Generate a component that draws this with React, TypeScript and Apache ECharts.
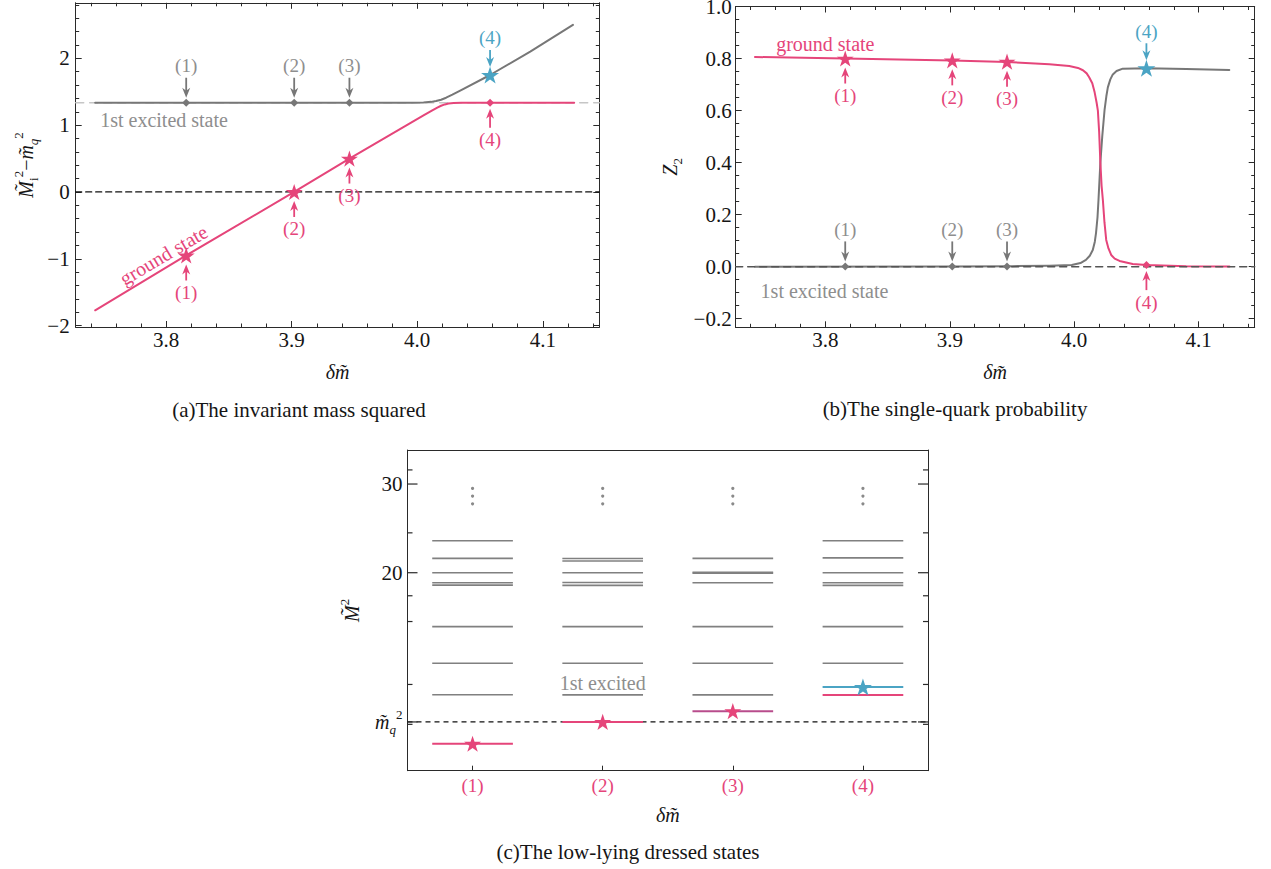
import { useEffect, useRef } from 'react';
import * as echarts from 'echarts';

const FONT = '"Liberation Serif", "Times New Roman", Times, serif';
const PINK = '#e5457a';
const GRAY = '#777777';
const CYAN = '#4ba4c4';
const LABEL_GRAY = '#8e8e8e';
const INK = '#151515';
const FRAME = '#2a2a2a';
const TICK_FONT = 21;

const X_MIN = 3.728;
const X_MAX = 4.145;

// ---- shared
const pointLabels = ['(1)', '(2)', '(3)', '(4)'];
const deltaM = [3.816, 3.902, 3.946, 4.058];

// ---- panel (a): invariant mass squared (M_i^2 - m_q^2)
const groundA = [
  [3.7435, -1.77], [3.816, -0.95], [3.902, 0], [3.946, 0.5], [3.99, 0.98], [4.005, 1.145],
  [4.012, 1.22], [4.016, 1.262], [4.019, 1.29], [4.022, 1.31], [4.025, 1.322], [4.029, 1.33],
  [4.035, 1.334], [4.058, 1.335], [4.125, 1.335],
];
const excitedA = [
  [3.7435, 1.335], [3.95, 1.335], [3.995, 1.336], [4.005, 1.34], [4.011, 1.348], [4.015, 1.36],
  [4.019, 1.38], [4.023, 1.41], [4.028, 1.455], [4.035, 1.525], [4.058, 1.75], [4.09, 2.1], [4.124, 2.5],
];
const EXCITED_LEVEL_A = 1.335;
const groundStarsA = [-0.95, 0, 0.5];
const excitedDotsA = [1.335, 1.335, 1.335];
const groundDotA4 = 1.335;
const excitedStarA4 = 1.75;

// ---- panel (b): single-quark probability Z2
const groundB = [
  [3.7435, 0.806], [3.816, 0.8], [3.902, 0.792], [3.946, 0.787], [3.98, 0.778], [3.996, 0.771],
  [4.003, 0.764], [4.007, 0.755], [4.01, 0.743], [4.012, 0.728], [4.0145, 0.705], [4.0164, 0.67],
  [4.018, 0.63], [4.019, 0.6], [4.02, 0.52], [4.021, 0.4], [4.022, 0.31], [4.023, 0.257], [4.0243, 0.17],
  [4.0257, 0.103], [4.0275, 0.07], [4.0297, 0.045], [4.0325, 0.031], [4.0364, 0.022], [4.047, 0.01],
  [4.058, 0.0066], [4.09, 0.002], [4.1247, 0.001],
];
const excitedB = [
  [3.7435, 0.0], [3.9, 0.0005], [3.95, 0.002], [3.98, 0.004], [3.998, 0.0066], [4.005, 0.014],
  [4.0094, 0.026], [4.0125, 0.042], [4.0149, 0.064], [4.0165, 0.095], [4.0175, 0.129], [4.0187, 0.19],
  [4.0195, 0.257], [4.021, 0.4], [4.0225, 0.5], [4.0244, 0.604], [4.0258, 0.655], [4.027, 0.689],
  [4.029, 0.72], [4.031, 0.739], [4.034, 0.752], [4.039, 0.761], [4.058, 0.7626], [4.09, 0.76], [4.1246, 0.756],
];
const groundStarsB = [0.8, 0.793, 0.788];
const excitedDotsB = [0.001, 0.001, 0.001];
const groundDotB4 = 0.006;
const excitedStarB4 = 0.7626;

// ---- panel (c): low-lying dressed states (M^2)
const categoriesC = ['(1)', '(2)', '(3)', '(4)'];
const MQ2 = 10.11;
const levelsC = [
  [23.14, 21.36, 20.0, 19.1, 18.9, 15.63, 13.22, 11.45],
  [21.35, 21.1, 20.0, 19.13, 18.88, 15.63, 13.22, 11.44],
  [21.36, 20.03, 19.95, 19.1, 15.63, 13.22, 11.44],
  [23.14, 21.4, 20.0, 19.1, 18.88, 15.63, 13.22],
];
const groundC = [9.15, 10.11, 10.62, 11.44];
const cyanLevelC = 11.86;
const dotsC = [29.4, 28.4, 27.4];
const majorTicksC = [30, 20, MQ2];
const majorTickLabelsC = ['30', '20', '{it|m\u0303}{sub|q}{sup|2}'];
const minorTicksC = [32, 24, 18, 16, 12, 10];

const STAR =
  'path://M50 0 L61.23 34.55 L97.55 34.55 L68.16 55.9 L79.39 90.45 L50 69.1 L20.61 90.45 L31.84 55.9 L2.45 34.55 L38.77 34.55 Z';

const richMath = {
  it: { fontStyle: 'italic', fontSize: 20, fontFamily: FONT, color: INK, lineHeight: 28 },
  up: { fontSize: 20, fontFamily: FONT, color: INK, lineHeight: 28 },
  sub: { fontStyle: 'italic', fontSize: 13, fontFamily: FONT, color: INK, verticalAlign: 'bottom' },
  subn: { fontSize: 13, fontFamily: FONT, color: INK, verticalAlign: 'bottom' },
  sup: { fontSize: 13, fontFamily: FONT, color: INK, verticalAlign: 'top' },
};

function fmtSigned(v: number, digits: number) {
  const s = Math.abs(v).toFixed(digits);
  return v < -1e-9 ? '\u2212' + s : s;
}

function valueXAxis(gridIndex: number, position: string, main: boolean) {
  return {
    type: 'value', gridIndex, position, min: X_MIN, max: X_MAX, splitNumber: 4,
    axisLine: { show: true, onZero: false, lineStyle: { color: FRAME, width: 1 } },
    axisTick: { show: true, inside: true, length: 6, lineStyle: { color: FRAME } },
    minorTick: { show: true, splitNumber: 5, length: 3.5, lineStyle: { color: FRAME } },
    splitLine: { show: false }, minorSplitLine: { show: false },
    axisLabel: {
      show: main, margin: 2, showMinLabel: false, showMaxLabel: false,
      formatter: (v: number) => v.toFixed(1), color: INK, fontSize: TICK_FONT, fontFamily: FONT,
    },
    name: main ? '\u03b4m\u0303' : '', nameLocation: 'middle', nameGap: 35,
    nameTextStyle: { fontStyle: 'italic', fontSize: 20, fontFamily: FONT, color: INK },
  };
}

function valueYAxis(gridIndex: number, position: string, main: boolean, o: any) {
  return {
    type: 'value', gridIndex, position, min: o.min, max: o.max, splitNumber: o.split,
    axisLine: { show: true, onZero: false, lineStyle: { color: FRAME, width: 1 } },
    axisTick: { show: true, inside: true, length: 6, lineStyle: { color: FRAME } },
    minorTick: { show: true, splitNumber: o.minor, length: 3.5, lineStyle: { color: FRAME } },
    splitLine: { show: false }, minorSplitLine: { show: false },
    axisLabel: {
      show: main, margin: o.margin, showMinLabel: false, showMaxLabel: o.showMax,
      formatter: (v: number) => fmtSigned(v, o.digits), color: INK, fontSize: TICK_FONT, fontFamily: FONT,
    },
    name: main ? o.name : '', nameLocation: 'middle', nameGap: o.nameGap,
    nameTextStyle: { fontSize: 20, fontFamily: FONT, color: INK, rich: richMath },
  };
}

// arrow + label pointing at a point; dir -1: from above, +1: from below
function arrowSeries(xi: number, yi: number, pts: number[][], labels: string[], dir: number, gap: number, arrowColor: string, textColor: string) {
  return {
    type: 'custom', xAxisIndex: xi, yAxisIndex: yi, z: 6, silent: true, clip: false,
    data: pts,
    renderItem: (params: any, api: any) => {
      const p = api.coord([api.value(0), api.value(1)]);
      const x = p[0];
      const y = p[1];
      const tip = y + dir * gap;
      const tail = y + dir * 25;
      return {
        type: 'group',
        children: [
          { type: 'line', shape: { x1: x, y1: tail, x2: x, y2: tip + dir * 5 }, style: { stroke: arrowColor, lineWidth: 1.8 } },
          {
            type: 'polygon',
            shape: { points: [[x, tip], [x - 4, tip + dir * 10], [x, tip + dir * 7], [x + 4, tip + dir * 10]] },
            style: { fill: arrowColor },
          },
          {
            type: 'text', x, y: y + dir * 37,
            style: { text: labels[params.dataIndex], fill: textColor, fontSize: 19, fontFamily: FONT, align: 'center', verticalAlign: 'middle' },
          },
        ],
      };
    },
  };
}

function textSeries(xi: number, yi: number, pos: number[], text: string, color: string, align: string, rotateDeg: number) {
  return {
    type: 'custom', xAxisIndex: xi, yAxisIndex: yi, z: 6, silent: true, clip: false,
    data: [pos],
    renderItem: (_params: any, api: any) => {
      const p = api.coord([api.value(0), api.value(1)]);
      return {
        type: 'text', x: p[0], y: p[1], rotation: (rotateDeg * Math.PI) / 180,
        style: { text, fill: color, fontSize: 20, fontFamily: FONT, align, verticalAlign: 'middle' },
      };
    },
  };
}

function lineSeries(xi: number, yi: number, data: number[][], color: string, z: number, dash?: any, width = 2) {
  return {
    type: 'line', xAxisIndex: xi, yAxisIndex: yi, data, z, silent: true,
    showSymbol: false, symbol: 'none', smooth: false,
    lineStyle: { color, width, type: dash || 'solid', join: 'round', cap: 'round' },
  };
}

function scatterSeries(xi: number, yi: number, data: any[], symbol: string, size: number, color: string, z = 5) {
  return {
    type: 'scatter', xAxisIndex: xi, yAxisIndex: yi, data, symbol, symbolSize: size, symbolKeepAspect: true,
    itemStyle: { color, opacity: 1 }, z, silent: true,
  };
}

function buildOption() {
  const first3 = (vals: number[]) => vals.map((v, i) => [deltaM[i], v]);

  const series: any[] = [
    // ---------- (a)
    lineSeries(0, 0, [[X_MIN, EXCITED_LEVEL_A], [X_MAX, EXCITED_LEVEL_A]], '#c6c6c6', 1, [8, 6], 1.5),
    lineSeries(0, 0, [[X_MIN, 0], [X_MAX, 0]], '#111111', 1, [6, 4], 1.3),
    lineSeries(0, 0, excitedA, GRAY, 2),
    lineSeries(0, 0, groundA, PINK, 3),
    scatterSeries(0, 0, first3(excitedDotsA), 'diamond', 8, GRAY),
    scatterSeries(0, 0, [[deltaM[3], groundDotA4]], 'diamond', 8, PINK),
    scatterSeries(0, 0, first3(groundStarsA), STAR, 17, PINK),
    scatterSeries(0, 0, [[deltaM[3], excitedStarA4]], STAR, 18, CYAN),
    arrowSeries(0, 0, first3(excitedDotsA), pointLabels, -1, 5, GRAY, LABEL_GRAY),
    arrowSeries(0, 0, first3(groundStarsA), pointLabels, 1, 9, PINK, PINK),
    arrowSeries(0, 0, [[deltaM[3], groundDotA4]], ['(4)'], 1, 6, PINK, PINK),
    arrowSeries(0, 0, [[deltaM[3], excitedStarA4]], ['(4)'], -1, 8, CYAN, CYAN),
    textSeries(0, 0, [3.7475, 1.077], '1st excited state', LABEL_GRAY, 'left', 0),
    textSeries(0, 0, [3.798, -0.942], 'ground state', PINK, 'center', 30.6),

    // ---------- (b)
    lineSeries(2, 2, excitedB, GRAY, 2),
    lineSeries(2, 2, groundB, PINK, 3),
    lineSeries(2, 2, [[X_MIN, 0], [X_MAX, 0]], '#555555', 4, [7, 5], 1.5),
    scatterSeries(2, 2, first3(excitedDotsB), 'diamond', 8, GRAY),
    scatterSeries(2, 2, [[deltaM[3], groundDotB4]], 'diamond', 8, PINK),
    scatterSeries(2, 2, first3(groundStarsB), STAR, 17, PINK),
    scatterSeries(2, 2, [[deltaM[3], excitedStarB4]], STAR, 18, CYAN),
    arrowSeries(2, 2, first3(excitedDotsB), pointLabels, -1, 5, GRAY, LABEL_GRAY),
    arrowSeries(2, 2, first3(groundStarsB), pointLabels, 1, 9, PINK, PINK),
    arrowSeries(2, 2, [[deltaM[3], groundDotB4]], ['(4)'], 1, 6, PINK, PINK),
    arrowSeries(2, 2, [[deltaM[3], excitedStarB4]], ['(4)'], -1, 8, CYAN, CYAN),
    textSeries(2, 2, [3.8, 0.855], 'ground state', PINK, 'center', 0),
    textSeries(2, 2, [3.748, -0.093], '1st excited state', LABEL_GRAY, 'left', 0),
  ];

  // ---------- (c)
  const levelRender = (color: (i: number) => string, width: number) => (params: any, api: any) => {
    const idx = api.value(0);
    const c = api.coord([idx, api.value(1)]);
    const half = (params.coordSys.width / categoriesC.length) * 0.31;
    return {
      type: 'line', shape: { x1: c[0] - half, y1: c[1], x2: c[0] + half, y2: c[1] },
      style: { stroke: color(idx), lineWidth: width },
    };
  };
  const groundColorsC = [PINK, PINK, '#b84c8c', PINK];
  series.push(
    {
      type: 'custom', xAxisIndex: 4, yAxisIndex: 4, z: 1, silent: true, data: [[0, MQ2]],
      renderItem: (params: any, api: any) => {
        const y = api.coord([0, api.value(1)])[1];
        const cs = params.coordSys;
        return { type: 'line', shape: { x1: cs.x, y1: y, x2: cs.x + cs.width, y2: y }, style: { stroke: '#111', lineWidth: 1.2, lineDash: [5, 4] } };
      },
    },
    {
      type: 'custom', xAxisIndex: 4, yAxisIndex: 4, z: 2, silent: true,
      data: levelsC.flatMap((col, i) => col.map((v) => [i, v])),
      renderItem: levelRender(() => '#808080', 1.6),
    },
    {
      type: 'custom', xAxisIndex: 4, yAxisIndex: 4, z: 3, silent: true,
      data: groundC.map((v, i) => [i, v]),
      renderItem: levelRender((i) => groundColorsC[i], 2),
    },
    {
      type: 'custom', xAxisIndex: 4, yAxisIndex: 4, z: 3, silent: true,
      data: [[3, cyanLevelC]],
      renderItem: levelRender(() => CYAN, 2),
    },
    scatterSeries(4, 4, groundC.slice(0, 3).map((v, i) => [i, v]), STAR, 17, PINK),
    scatterSeries(4, 4, [[3, cyanLevelC]], STAR, 18, CYAN),
    scatterSeries(4, 4, categoriesC.flatMap((_c, i) => dotsC.map((v) => [i, v])), 'circle', 3.2, '#8a8a8a'),
    textSeries(4, 4, [1, 12.06], '1st excited', LABEL_GRAY, 'center', 0),
    // frame ticks and labels of the M^2 axis
    {
      type: 'custom', xAxisIndex: 4, yAxisIndex: 4, z: 7, silent: true, clip: false,
      data: majorTicksC.map((v) => [0, v]).concat(minorTicksC.map((v) => [0, v])),
      renderItem: (params: any, api: any) => {
        const i = params.dataIndex;
        const major = i < majorTicksC.length;
        const y = api.coord([0, api.value(1)])[1];
        const cs = params.coordSys;
        const len = major ? 10 : 5;
        const children: any[] = [
          { type: 'line', shape: { x1: cs.x, y1: y, x2: cs.x + len, y2: y }, style: { stroke: FRAME, lineWidth: 1.2 } },
          { type: 'line', shape: { x1: cs.x + cs.width - len, y1: y, x2: cs.x + cs.width, y2: y }, style: { stroke: FRAME, lineWidth: 1.2 } },
        ];
        if (major) {
          children.push({
            type: 'text', x: cs.x - 5, y,
            style: { text: majorTickLabelsC[i], fill: INK, fontSize: TICK_FONT, fontFamily: FONT, align: 'right', verticalAlign: 'middle', rich: richMath },
          });
        }
        return { type: 'group', children };
      },
    },
  );

  const catAxisC = (position: string, main: boolean) => ({
    type: 'category', gridIndex: 2, position, data: categoriesC, boundaryGap: true,
    axisLine: { show: true, onZero: false, lineStyle: { color: FRAME, width: 1 } },
    axisTick: { show: main, inside: true, alignWithLabel: true, length: 5, lineStyle: { color: FRAME } },
    axisLabel: { show: main, margin: 5, color: PINK, fontSize: 19, fontFamily: FONT },
    splitLine: { show: false },
    name: main ? '\u03b4m\u0303' : '', nameLocation: 'middle', nameGap: 34,
    nameTextStyle: { fontStyle: 'italic', fontSize: 20, fontFamily: FONT, color: INK },
  });
  const logAxisC = (position: string, main: boolean) => ({
    type: 'log', gridIndex: 2, position, logBase: 10, min: 8.09, max: 35.05,
    axisLine: { show: true, onZero: false, lineStyle: { color: FRAME, width: 1 } },
    axisTick: { show: false }, minorTick: { show: false }, axisLabel: { show: false },
    splitLine: { show: false }, minorSplitLine: { show: false },
    name: main ? '{it|M\u0303}{sup|2}' : '', nameLocation: 'middle', nameGap: 42,
    nameTextStyle: { fontSize: 20, fontFamily: FONT, color: INK, rich: richMath },
  });

  const yA = { min: -2.02, max: 2.83, split: 5, minor: 5, digits: 0, margin: 6, showMax: false, nameGap: 36,
    name: '{it|M\u0303}{subn|i}{sup|2}{up|\u2212}{it|m\u0303}{sub|q}{sup|2}' };
  const yB = { min: -0.233, max: 1.0, split: 6, minor: 4, digits: 1, margin: 4, showMax: true, nameGap: 52,
    name: '{it|Z}{subn|2}' };

  const caption = (x: number, y: number, text: string) => ({
    type: 'text', x, y, silent: true,
    style: { text, fill: INK, fontSize: 21, fontFamily: FONT, align: 'center', verticalAlign: 'middle' },
  });

  return {
    animation: false,
    backgroundColor: '#ffffff',
    textStyle: { fontFamily: FONT },
    grid: [
      { left: 75.7, top: 2.8, width: 523.6, height: 324.2, containLabel: false, outerBoundsMode: 'none' },
      { left: 735.7, top: 6.5, width: 519, height: 320.8, containLabel: false, outerBoundsMode: 'none' },
      { left: 407.5, top: 450, width: 520.5, height: 320.7, containLabel: false, outerBoundsMode: 'none' },
    ],
    xAxis: [
      valueXAxis(0, 'bottom', true), valueXAxis(0, 'top', false),
      valueXAxis(1, 'bottom', true), valueXAxis(1, 'top', false),
      catAxisC('bottom', true), catAxisC('top', false),
    ],
    yAxis: [
      valueYAxis(0, 'left', true, yA), valueYAxis(0, 'right', false, yA),
      valueYAxis(1, 'left', true, yB), valueYAxis(1, 'right', false, yB),
      logAxisC('left', true), logAxisC('right', false),
    ],
    series,
    graphic: [
      caption(299, 410, '(a)The invariant mass squared'),
      caption(955, 409, '(b)The single-quark probability'),
      caption(628, 852, '(c)The low-lying dressed states'),
    ],
  };
}

export default function App() {
  const ref = useRef<HTMLDivElement>(null);
  useEffect(() => {
    const chart = echarts.init(ref.current!, null, { renderer: 'svg' });
    chart.setOption(buildOption() as any);
    return () => chart.dispose();
  }, []);
  return (
    <div
      ref={ref}
      style={{ position: 'fixed', left: 0, top: 0, width: 1271, height: 869, background: '#fff' }}
    />
  );
}
